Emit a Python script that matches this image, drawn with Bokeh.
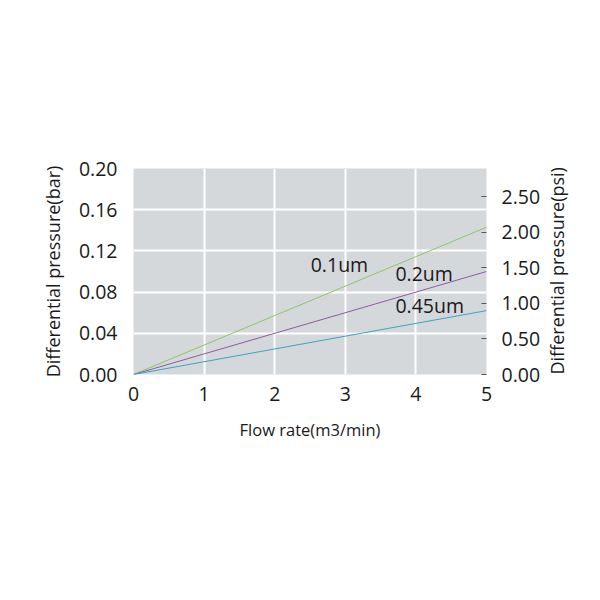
import math
from bokeh.plotting import figure
from bokeh.models import LinearAxis, Range1d, FixedTicker, NumeralTickFormatter, Label
from bokeh.embed import file_html
from bokeh.resources import INLINE

# Data
flow = [0, 5]
dp_01um = [0, 0.143]
dp_02um = [0, 0.100]
dp_045um = [0, 0.062]
series_names = ["0.1um", "0.2um", "0.45um"]
bar_ticks = [0.0, 0.04, 0.08, 0.12, 0.16, 0.20]
psi_ticks = [0.0, 0.5, 1.0, 1.5, 2.0, 2.5]
flow_ticks = [0, 1, 2, 3, 4, 5]

FONT = "Open Sans"
TXT = "#1a1a1a"

p = figure(frame_width=353, frame_height=206, output_backend="svg", toolbar_location=None,
           x_range=Range1d(0, 5), y_range=Range1d(0, 0.20),
           min_border_left=133, min_border_top=168, min_border_right=90, min_border_bottom=120)
p.extra_y_ranges = {"psi": Range1d(0, 2.9)}

p.background_fill_color = "#d4d8db"
p.border_fill_color = "white"
p.outline_line_color = None
p.xgrid.grid_line_color = "white"
p.ygrid.grid_line_color = "white"
p.xgrid.grid_line_width = 2
p.ygrid.grid_line_width = 2

p.line(flow, dp_01um, line_color="#8cc660", line_width=1)
p.line(flow, dp_02um, line_color="#8e5aa6", line_width=1)
p.line(flow, dp_045um, line_color="#3aa4c4", line_width=1)

label_pos = [(2.51, 0.107), (3.71, 0.098), (3.71, 0.067)]
for name, (lx, ly) in zip(series_names, label_pos):
    p.add_layout(Label(x=lx, y=ly, text=name, text_font=FONT, text_font_size="19.5px",
                       text_color=TXT, text_baseline="middle", text_align="left"))

# left axis
ya = p.yaxis[0]
ya.ticker = FixedTicker(ticks=bar_ticks)
ya.formatter = NumeralTickFormatter(format="0.00")
ya.axis_label = "Differential pressure(bar)"
# bottom axis
xa = p.xaxis[0]
xa.ticker = FixedTicker(ticks=flow_ticks)
xa.axis_label = "Flow rate(m3/min)"

for ax in (xa, ya):
    ax.axis_line_color = None
    ax.major_tick_line_color = None
    ax.minor_tick_line_color = None
    ax.major_tick_out = 0
    ax.major_tick_in = 0
    ax.major_label_text_font = FONT
    ax.major_label_text_font_size = "19.5px"
    ax.major_label_text_color = TXT
    ax.axis_label_text_font = FONT
    ax.axis_label_text_font_style = "normal"
    ax.axis_label_text_color = TXT

ya.axis_label_text_font_size = "18px"
ya.major_label_standoff = 16
ya.axis_label_standoff = 11
xa.axis_label_text_font_size = "16.5px"
xa.major_label_standoff = 12
xa.axis_label_standoff = 14

ra = LinearAxis(y_range_name="psi", ticker=FixedTicker(ticks=psi_ticks),
                formatter=NumeralTickFormatter(format="0.00"),
                axis_label="Differential pressure(psi)")
ra.axis_line_color = None
ra.minor_tick_line_color = None
ra.major_tick_line_color = "#555555"
ra.major_tick_in = 5
ra.major_tick_out = 0
ra.major_label_standoff = 15
ra.major_label_text_font = FONT
ra.major_label_text_font_size = "19.5px"
ra.major_label_text_color = TXT
ra.axis_label_text_font = FONT
ra.axis_label_text_font_size = "18px"
ra.axis_label_text_font_style = "normal"
ra.axis_label_text_color = TXT
ra.axis_label_text_baseline = "middle"
ra.axis_label_standoff = 14
ra.axis_label_orientation = math.pi / 2
ra.axis_label_align = "start"
p.add_layout(ra, "right")

open("out.html", "w").write(file_html(p, INLINE))
